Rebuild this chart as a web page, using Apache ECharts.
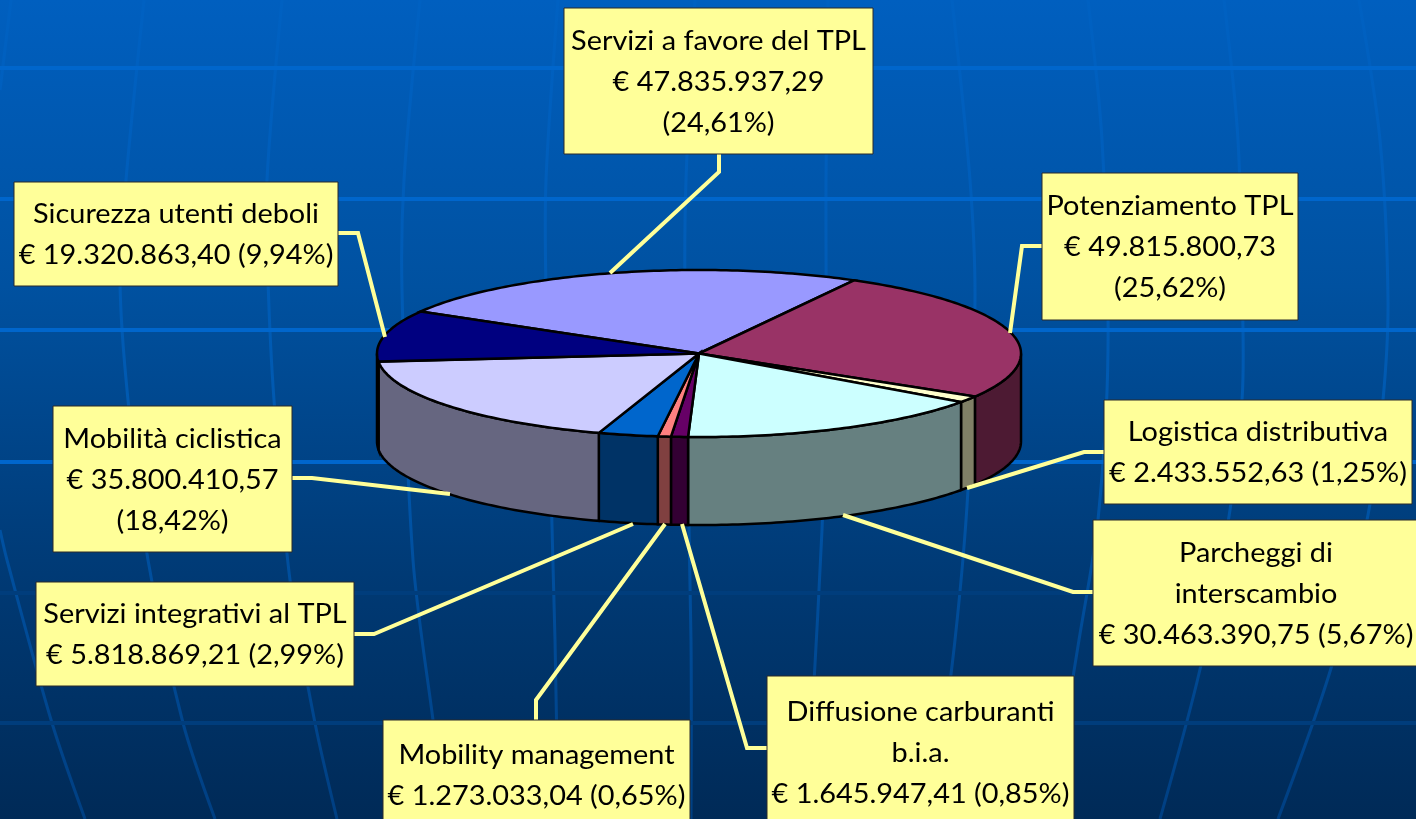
<!DOCTYPE html>
<html>
<head>
<meta charset="utf-8">
<title>Ripartizione risorse</title>
<script src="https://cdn.jsdelivr.net/npm/echarts@6/dist/echarts.min.js"></script>
<style>
html, body { margin: 0; padding: 0; background: #003060; overflow: hidden; }
#chart { width: 1416px; height: 819px; }
</style>
</head>
<body>
<div id="chart"></div>
<script>
// dati, in senso orario a partire da "Servizi a favore del TPL"
const categories = ['Servizi a favore del TPL', 'Potenziamento TPL', 'Logistica distributiva', 'Parcheggi di interscambio', 'Diffusione carburanti b.i.a.', 'Mobility management', 'Servizi integrativi al TPL', 'Mobilità ciclistica', 'Sicurezza utenti deboli']
const values = [47835937.29, 49815800.73, 2433552.63, 30463390.75, 1645947.41, 1273033.04, 5818869.21, 35800410.57, 19320863.40]
const labelTexts = [
  'Servizi a favore del TPL\n€ 47.835.937,29\n(24,61%)',
  'Potenziamento TPL\n€ 49.815.800,73\n(25,62%)',
  'Logistica distributiva\n€ 2.433.552,63 (1,25%)',
  'Parcheggi di\ninterscambio\n€ 30.463.390,75 (5,67%)',
  'Diffusione carburanti\nb.i.a.\n€ 1.645.947,41 (0,85%)',
  'Mobility management\n€ 1.273.033,04 (0,65%)',
  'Servizi integrativi al TPL\n€ 5.818.869,21 (2,99%)',
  'Mobilità ciclistica\n€ 35.800.410,57\n(18,42%)',
  'Sicurezza utenti deboli\n€ 19.320.863,40 (9,94%)'
]

// stile delle fette
const topColors = ['#9999ff', '#993366', '#ffffcc', '#ccffff', '#660066', '#ff8080', '#0066cc', '#ccccff', '#000080']
const wallColors = ['#4d4d80', '#4d1a33', '#808066', '#668080', '#330033', '#804040', '#003366', '#666680', '#000040']

// posizione dei riquadri [x, y, w, h] e delle linee guida
const boxes = [
  [564, 8, 309, 146], [1042, 173, 256, 147], [1104, 400, 308, 104],
  [1093, 520, 326, 146], [767, 676, 307, 152], [383, 720, 307, 110],
  [36, 582, 318, 104], [53, 406, 239, 146], [14, 182, 324, 104]
]
const leaders = [
  [[719, 154], [719, 172], [610, 273]],
  [[1042, 246], [1022, 246], [1010, 333]],
  [[1104, 452], [1084, 452], [967, 488]],
  [[1093, 592], [1073, 592], [843, 515]],
  [[767, 748], [747, 748], [682, 524]],
  [[536, 720], [536, 700], [665, 524]],
  [[354, 634], [374, 634], [633, 524]],
  [[292, 478], [312, 478], [450, 494]],
  [[338, 233], [358, 233], [385, 337]]
]

// sfondo a griglia
const parallels = [[68, '#0066cc'], [199, '#0066cc'], [330, '#0066cc'], [462, '#0066cc'], [593, '#003d7c'], [723, '#003d7c']]
const meridians = [
  [[11, 0], [0, 90]],
  [[0, 530], [7, 560], [52, 723], [85, 819]],
  [[144, 0], [126, 180], [120, 280], [128, 400], [148, 560], [183, 723], [215, 819]],
  [[282, 0], [267, 180], [268, 280], [274, 400], [290, 580], [315, 723], [337, 819]],
  [[420, 0], [404, 180], [402, 290], [413, 560], [433, 720], [446, 819]],
  [[558, 0], [546, 180], [546, 290], [555, 640], [558, 819]],
  [[695, 0], [686, 180], [685, 300], [691, 640], [691, 819]],
  [[828, 0], [826, 180], [826, 400], [822, 530], [813, 700], [806, 819]],
  [[952, 0], [970, 180], [975, 300], [968, 490], [955, 640], [932, 819]],
  [[1088, 0], [1102, 140], [1108, 350], [1098, 520], [1079, 640], [1050, 819]],
  [[1224, 0], [1238, 140], [1243, 330], [1242, 400], [1230, 510], [1201, 665], [1160, 819]],
  [[1359, 0], [1380, 140], [1388, 300], [1383, 400], [1368, 515], [1332, 665], [1278, 819]]
]

const pieCx = 699
const pieCy = 353.5
const pieRx = 322
const pieRy = 83.5
const pieDepth = 88
const startAngle = 300.2
const labelFont = '27px Lato, "Open Sans", sans-serif'

const total = values.reduce((a, b) => a + b, 0)

// angoli di inizio e fine di ogni fetta, in gradi dall'alto in senso orario
function sliceAngles(i) {
  let sum = 0
  for (let k = 0; k < i; k++) sum += values[k]
  const a0 = startAngle + sum / total * 360
  return [a0, a0 + values[i] / total * 360]
}

function rimPoint(deg, dy) {
  const rad = deg * Math.PI / 180
  return [pieCx + pieRx * Math.sin(rad), pieCy - pieRy * Math.cos(rad) + dy]
}

function arcPoints(a0, a1, dy) {
  const pts = []
  const steps = Math.max(2, Math.ceil(a1 - a0))
  for (let s = 0; s <= steps; s++) {
    pts.push(rimPoint(a0 + (a1 - a0) * s / steps, dy))
  }
  return pts
}

// parte visibile della parete: solo il lato frontale, tra 90 e 270 gradi
function renderWall(params, api) {
  const [a0, a1] = sliceAngles(params.dataIndex)
  const parts = []
  for (const shift of [0, 360]) {
    const from = Math.max(a0, 90 + shift)
    const to = Math.min(a1, 270 + shift)
    if (to > from) {
      const pts = arcPoints(from, to, 0).concat(arcPoints(from, to, pieDepth).reverse())
      parts.push({
        type: 'polygon',
        shape: { points: pts },
        style: { fill: wallColors[params.dataIndex], stroke: '#000', lineWidth: 2.5 }
      })
    }
  }
  return { type: 'group', children: parts }
}

function renderTop(params, api) {
  const [a0, a1] = sliceAngles(params.dataIndex)
  const pts = [[pieCx, pieCy]].concat(arcPoints(a0, a1, 0))
  return {
    type: 'polygon',
    shape: { points: pts },
    style: { fill: topColors[params.dataIndex], stroke: '#000', lineWidth: 2.5 }
  }
}

function renderLabel(params, api) {
  const i = params.dataIndex
  const [x, y, w, h] = boxes[i]
  return {
    type: 'group',
    children: [
      {
        type: 'polyline',
        shape: { points: leaders[i] },
        style: { fill: 'none', stroke: '#ffff99', lineWidth: 4 }
      },
      {
        type: 'rect',
        shape: { x: x, y: y, width: w, height: h },
        style: { fill: '#ffff99', stroke: '#2a2a2a', lineWidth: 1 }
      },
      {
        type: 'text',
        x: x + w / 2,
        y: y + h / 2 + 1,
        scaleX: 1.07, // il font originale e' piu' largo
        style: {
          text: labelTexts[i],
          font: labelFont,
          fill: '#000',
          align: 'center',
          verticalAlign: 'middle',
          lineHeight: 41
        }
      }
    ]
  }
}

const graphicBackground = [
  {
    type: 'rect',
    silent: true,
    shape: { x: 0, y: 0, width: 1416, height: 819 },
    style: {
      fill: new echarts.graphic.LinearGradient(0, 0, 0, 1, [
        { offset: 0, color: '#005fbf' },
        { offset: 0.35, color: '#0051a0' },
        { offset: 0.7, color: '#003a75' },
        { offset: 1, color: '#002a57' }
      ])
    }
  }
]
meridians.forEach((pts) => {
  graphicBackground.push({
    type: 'polyline',
    silent: true,
    shape: { points: pts, smooth: 0.3 },
    style: {
      fill: 'none',
      lineWidth: 3,
      stroke: new echarts.graphic.LinearGradient(0, 0, 0, 819, [
        { offset: 0, color: '#0061c2' },
        { offset: 0.5, color: '#0059b0' },
        { offset: 1, color: '#003f82' }
      ], true)
    }
  })
})
parallels.forEach((p) => {
  graphicBackground.push({
    type: 'line',
    silent: true,
    shape: { x1: 0, y1: p[0], x2: 1416, y2: p[0] },
    style: { stroke: p[1], lineWidth: 4 }
  })
})

const seriesData = categories.map((name, i) => ({ name: name, value: values[i] }))

const chart = echarts.init(document.getElementById('chart'), null, { renderer: 'canvas' })
chart.setOption({
  animation: false,
  graphic: { elements: graphicBackground },
  series: [
    { type: 'custom', coordinateSystem: 'none', silent: true, renderItem: renderWall, data: seriesData, z: 3 },
    { type: 'custom', coordinateSystem: 'none', silent: true, renderItem: renderTop, data: seriesData, z: 4 },
    { type: 'custom', coordinateSystem: 'none', silent: true, renderItem: renderLabel, data: seriesData, z: 5 }
  ]
})
</script>
</body>
</html>
